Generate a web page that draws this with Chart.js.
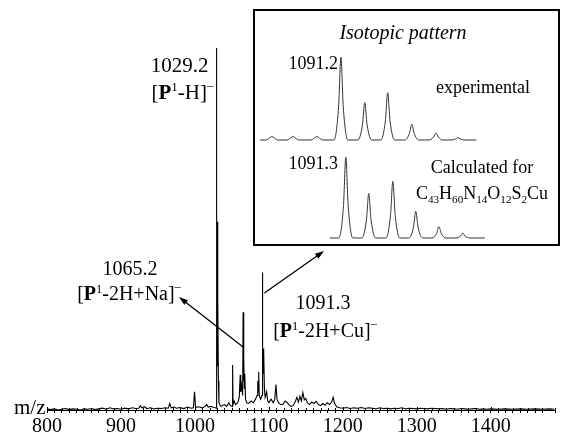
<!DOCTYPE html>
<html>
<head>
<meta charset="utf-8">
<script src="https://cdn.jsdelivr.net/npm/chart.js@4.4.1/dist/chart.umd.min.js"></script>
<style>
  html, body { margin: 0; padding: 0; background: #fff; }
  #wrap { position: relative; width: 568px; height: 436px; }
  #main { position: absolute; left: 0; top: 0; }
  #inset { position: absolute; left: 256px; top: 12px; }
</style>
</head>
<body>
<div id="wrap">
  <canvas id="main" width="568" height="436"></canvas>
  <canvas id="inset" width="302" height="232"></canvas>
</div>
<script>
// Main spectrum (m/z vs relative intensity, % of base peak)
const spectrumMz = [
  800, 805, 810, 815, 820, 825, 830, 835, 840, 845, 850, 855, 860, 865, 870, 875, 880, 885,
  890, 895, 900, 905, 910, 915, 920, 924, 926, 928, 932, 935, 940, 945, 950, 955, 960, 964, 966, 968,
  972, 975, 980, 985, 990, 995, 998, 999.5, 1001, 1005, 1010, 1014, 1016, 1018, 1022, 1025, 1028, 1028.8,
  1029.2, 1029.6, 1030.2, 1030.7, 1031.2, 1031.8, 1032.5, 1035, 1040, 1043, 1046, 1048, 1050.5, 1051,
  1051.6, 1053, 1055, 1058, 1060, 1061.3, 1062, 1063, 1064.6, 1065.2, 1065.8, 1066.3, 1066.9, 1067.5,
  1068.5, 1070, 1073, 1076, 1079, 1082, 1084, 1085, 1085.8, 1086.3, 1087, 1089, 1090.8, 1091.3, 1091.8,
  1092.3, 1092.8, 1093.3, 1094, 1095, 1097, 1098.5, 1100, 1103, 1106, 1108, 1109.6, 1111, 1113, 1116,
  1119, 1122, 1125, 1127, 1130, 1133, 1136, 1138, 1140, 1142, 1144, 1146, 1148, 1150, 1152, 1155, 1158,
  1161, 1164, 1167, 1170, 1173, 1176, 1179, 1182, 1185, 1187, 1189, 1192, 1196, 1200, 1205, 1210, 1215,
  1220, 1225, 1230, 1235, 1240, 1245, 1250, 1255, 1260, 1265, 1270, 1275, 1280, 1285, 1290, 1295, 1300,
  1305, 1310, 1315, 1320, 1325, 1330, 1335, 1340, 1345, 1350, 1355, 1360, 1365, 1370, 1375, 1380, 1385,
  1390, 1395, 1400, 1410, 1420, 1430, 1440, 1450, 1460, 1470, 1480, 1486
];
const spectrumInt = [
  0.3, 0.1, 0.3, 0.0, 0.2, 0.4, 0.1, 0.3, 0.2, 0.0, 0.3, 0.2, 0.4, 0.1, 0.3, 0.5, 0.2, 0.6,
  0.3, 0.4, 0.2, 0.5, 0.3, 0.6, 0.4, 0.5, 1.2, 0.6, 0.9, 0.4, 0.6, 0.3, 0.5, 0.4, 0.6, 0.5, 1.8, 0.6,
  0.8, 0.5, 0.7, 0.4, 0.8, 0.5, 0.6, 5.0, 0.7, 0.9, 0.6, 1.0, 1.5, 0.8, 1.0, 0.7, 0.6, 0.5,
  100, 10, 52, 12, 30, 8, 2, 1.0, 1.5, 1.0, 2.0, 1.2, 1.0, 12.4,
  1.5, 2.5, 1.5, 2.0, 3.5, 9.7, 5, 7, 4, 27, 8, 14, 6, 10,
  3, 2.0, 1.8, 2.5, 2.0, 3.0, 4, 8, 5, 10.5, 4, 3, 4, 38, 12,
  17, 10, 16, 6, 3.5, 5, 2.5, 2, 3, 2, 3, 7, 3, 2, 1.5,
  1.5, 2.5, 2.0, 1.5, 1.0, 1.2, 2.5, 3.5, 2.2, 3.8, 2.5, 4.8, 2.8, 3.2, 2.0, 1.5, 2.2,
  1.8, 2.4, 1.5, 1.2, 1.8, 1.3, 2.0, 1.5, 2.2, 3.5, 1.8, 0.8, 0.6, 0.5, 0.7, 0.4, 0.6,
  0.5, 0.7, 0.4, 0.6, 0.5, 0.3, 0.6, 0.4, 0.5, 0.3, 0.5, 0.4, 0.6, 0.3, 0.5, 0.4, 0.3,
  0.5, 0.4, 0.3, 0.5, 0.4, 0.3, 0.4, 0.2, 0.4, 0.3, 0.2, 0.4, 0.3, 0.2, 0.3, 0.4, 0.2,
  0.3, 0.2, 0.3, 0.2, 0.3, 0.2, 0.3, 0.2, 0.3, 0.2, 0.3, 0.2
];
const xTickLabels = [800, 900, 1000, 1100, 1200, 1300, 1400];

// Inset: isotopic pattern, experimental and calculated
const expMz = [
  1087.74, 1088.0, 1088.25, 1088.5, 1088.9, 1089.15, 1089.4, 1089.92, 1090.17, 1090.42, 1090.9,
  1091.1, 1091.2, 1091.3, 1091.5,
  1091.92, 1092.12, 1092.22, 1092.32, 1092.52,
  1092.9, 1093.1, 1093.2, 1093.3, 1093.5,
  1093.93, 1094.13, 1094.23, 1094.33, 1094.53,
  1094.96, 1095.16, 1095.26, 1095.36, 1095.56,
  1095.9, 1096.1, 1096.2, 1096.3, 1096.5, 1096.99
];
const expInt = [
  0, 0, 4, 0, 0, 4, 0, 0, 4, 0, 0,
  40, 100, 40, 0,
  0, 18, 45, 18, 0,
  0, 23, 57, 23, 0,
  0, 8, 19, 8, 0,
  0, 3.5, 8.5, 3.5, 0,
  0, 1.2, 3, 1.2, 0, 0
];
const calcMz = [
  1090.73, 1091.11, 1091.31, 1091.41, 1091.51, 1091.71,
  1092.09, 1092.29, 1092.39, 1092.49, 1092.69,
  1093.12, 1093.32, 1093.42, 1093.52, 1093.72,
  1094.1, 1094.3, 1094.4, 1094.5, 1094.7,
  1095.09, 1095.29, 1095.39, 1095.49, 1095.69,
  1096.11, 1096.31, 1096.41, 1096.51, 1096.71, 1097.35
];
const calcInt = [
  0, 0, 40, 100, 40, 0,
  0, 22, 55, 22, 0,
  0, 28, 70, 28, 0,
  0, 13, 33, 13, 0,
  0, 5.6, 14, 5.6, 0,
  0, 2.4, 6, 2.4, 0, 0
];

const SERIF = '"Liberation Serif", "DejaVu Serif", serif';

function toPoints(xs, ys) {
  return xs.map((x, i) => ({ x: x, y: ys[i] }));
}

// draw a line of text made of runs: {t, bold, italic, sup, sub}
function drawRich(ctx, runs, x, y, align, size) {
  const fontOf = r => {
    const s = (r.sup || r.sub) ? size * 0.62 : size;
    return (r.italic ? 'italic ' : '') + (r.bold ? 'bold ' : '') + s + 'px ' + SERIF;
  };
  let w = 0;
  runs.forEach(r => { ctx.font = fontOf(r); w += ctx.measureText(r.t).width; });
  let cx = align === 'center' ? x - w / 2 : align === 'right' ? x - w : x;
  ctx.textAlign = 'left';
  ctx.textBaseline = 'alphabetic';
  runs.forEach(r => {
    ctx.font = fontOf(r);
    let dy = 0;
    if (r.sup) dy = -size * (r.high ? 0.5 : 0.36);
    if (r.sub) dy = size * 0.22;
    ctx.fillText(r.t, cx, y + dy);
    cx += ctx.measureText(r.t).width;
  });
}

function arrow(ctx, x1, y1, x2, y2) {
  const a = Math.atan2(y2 - y1, x2 - x1);
  ctx.beginPath();
  ctx.moveTo(x1, y1);
  ctx.lineTo(x2 - 6 * Math.cos(a), y2 - 6 * Math.sin(a));
  ctx.stroke();
  ctx.beginPath();
  ctx.moveTo(x2, y2);
  ctx.lineTo(x2 - 9 * Math.cos(a) + 3 * Math.sin(a), y2 - 9 * Math.sin(a) - 3 * Math.cos(a));
  ctx.lineTo(x2 - 9 * Math.cos(a) - 3 * Math.sin(a), y2 - 9 * Math.sin(a) + 3 * Math.cos(a));
  ctx.closePath();
  ctx.fill();
}

const mainDecor = {
  id: 'mainDecor',
  afterDraw(chart) {
    const ctx = chart.ctx;
    const xs = chart.scales.x;
    const area = chart.chartArea;
    ctx.save();
    ctx.fillStyle = '#000';
    ctx.strokeStyle = '#000';

    // tick marks also poke above the axis line
    ctx.lineWidth = 1;
    ctx.beginPath();
    xs.ticks.forEach(t => {
      const px = Math.round(xs.getPixelForValue(t.value)) + 0.5;
      ctx.moveTo(px, area.bottom);
      ctx.lineTo(px, area.bottom - (t.value % 100 === 0 ? 3 : 2));
    });
    ctx.stroke();

    // inset frame
    ctx.lineWidth = 2;
    ctx.strokeRect(254, 10, 305, 235);

    const fs = 20;
    const x1029 = xs.getPixelForValue(1029.2);
    drawRich(ctx, [{ t: '1029.2' }], x1029 - 8, 72, 'right', 21);
    drawRich(ctx, [{ t: '[' }, { t: 'P', bold: true }, { t: '1', sup: true }, { t: '-H]' }, { t: '\u2013', sup: true, high: true }],
      x1029 - 3, 99, 'right', 21);

    drawRich(ctx, [{ t: '1065.2' }], 130, 275, 'center', fs);
    drawRich(ctx, [{ t: '[' }, { t: 'P', bold: true }, { t: '1', sup: true }, { t: '-2H+Na]' }, { t: '\u2013', sup: true, high: true }],
      129, 300, 'center', fs);

    drawRich(ctx, [{ t: '1091.3' }], 323, 309, 'center', fs);
    drawRich(ctx, [{ t: '[' }, { t: 'P', bold: true }, { t: '1', sup: true }, { t: '-2H+Cu]' }, { t: '\u2013', sup: true, high: true }],
      325, 337, 'center', fs);

    drawRich(ctx, [{ t: 'm/z' }], 14, 414, 'left', 21);

    // arrows
    ctx.lineWidth = 1.3;
    arrow(ctx, xs.getPixelForValue(1065.2), 347, 179, 297);
    arrow(ctx, xs.getPixelForValue(1091.3) + 2, 293, 324, 251);
    ctx.restore();
  }
};

new Chart(document.getElementById('main'), {
  type: 'line',
  data: {
    datasets: [{
      data: toPoints(spectrumMz, spectrumInt),
      borderColor: '#000',
      borderWidth: 1.1,
      pointRadius: 0,
      tension: 0,
      clip: false
    }]
  },
  options: {
    responsive: false,
    animation: false,
    devicePixelRatio: 1,
    layout: { padding: { left: 47, right: 13, top: 48, bottom: 0 } },
    plugins: { legend: { display: false }, tooltip: { enabled: false } },
    scales: {
      x: {
        type: 'linear',
        min: 800,
        max: 1487,
        afterFit(scale) { scale.height = 26; },
        border: { display: true, color: '#000', width: 1 },
        grid: { drawOnChartArea: false, drawTicks: true, tickLength: 3, color: '#000' },
        ticks: {
          stepSize: 10,
          autoSkip: false,
          maxRotation: 0,
          padding: 2,
          color: '#000',
          font: { family: SERIF, size: 20 },
          callback: v => xTickLabels.includes(v) ? String(v) : ''
        }
      },
      y: { display: false, min: 0, max: 100 }
    }
  },
  plugins: [mainDecor]
});

const insetDecor = {
  id: 'insetDecor',
  afterDraw(chart) {
    const ctx = chart.ctx;
    ctx.save();
    ctx.fillStyle = '#000';
    drawRich(ctx, [{ t: 'Isotopic pattern', italic: true }], 147, 27, 'center', 20);
    drawRich(ctx, [{ t: '1091.2' }], 82, 57, 'right', 18);
    drawRich(ctx, [{ t: 'experimental' }], 227, 81, 'center', 18);
    drawRich(ctx, [{ t: '1091.3' }], 82, 157, 'right', 18);
    drawRich(ctx, [{ t: 'Calculated for' }], 226, 161, 'center', 18);
    drawRich(ctx, [
      { t: 'C' }, { t: '43', sub: true }, { t: 'H' }, { t: '60', sub: true },
      { t: 'N' }, { t: '14', sub: true }, { t: 'O' }, { t: '12', sub: true },
      { t: 'S' }, { t: '2', sub: true }, { t: 'Cu' }
    ], 226, 187, 'center', 18);
    ctx.restore();
  }
};

new Chart(document.getElementById('inset'), {
  type: 'line',
  data: {
    datasets: [
      {
        data: toPoints(expMz, expInt),
        yAxisID: 'yE',
        borderColor: '#333',
        borderWidth: 1,
        pointRadius: 0,
        cubicInterpolationMode: 'monotone'
      },
      {
        data: toPoints(calcMz, calcInt),
        yAxisID: 'yC',
        borderColor: '#333',
        borderWidth: 1,
        pointRadius: 0,
        cubicInterpolationMode: 'monotone'
      }
    ]
  },
  options: {
    responsive: false,
    animation: false,
    devicePixelRatio: 1,
    layout: { padding: 0 },
    plugins: { legend: { display: false }, tooltip: { enabled: false } },
    scales: {
      x: { type: 'linear', display: false, min: 1087.57, max: 1100.48 },
      yE: { display: false, min: -125.3, max: 154.2 },
      yC: { display: false, min: -7.4, max: 279 }
    }
  },
  plugins: [insetDecor]
});
</script>
</body>
</html>
